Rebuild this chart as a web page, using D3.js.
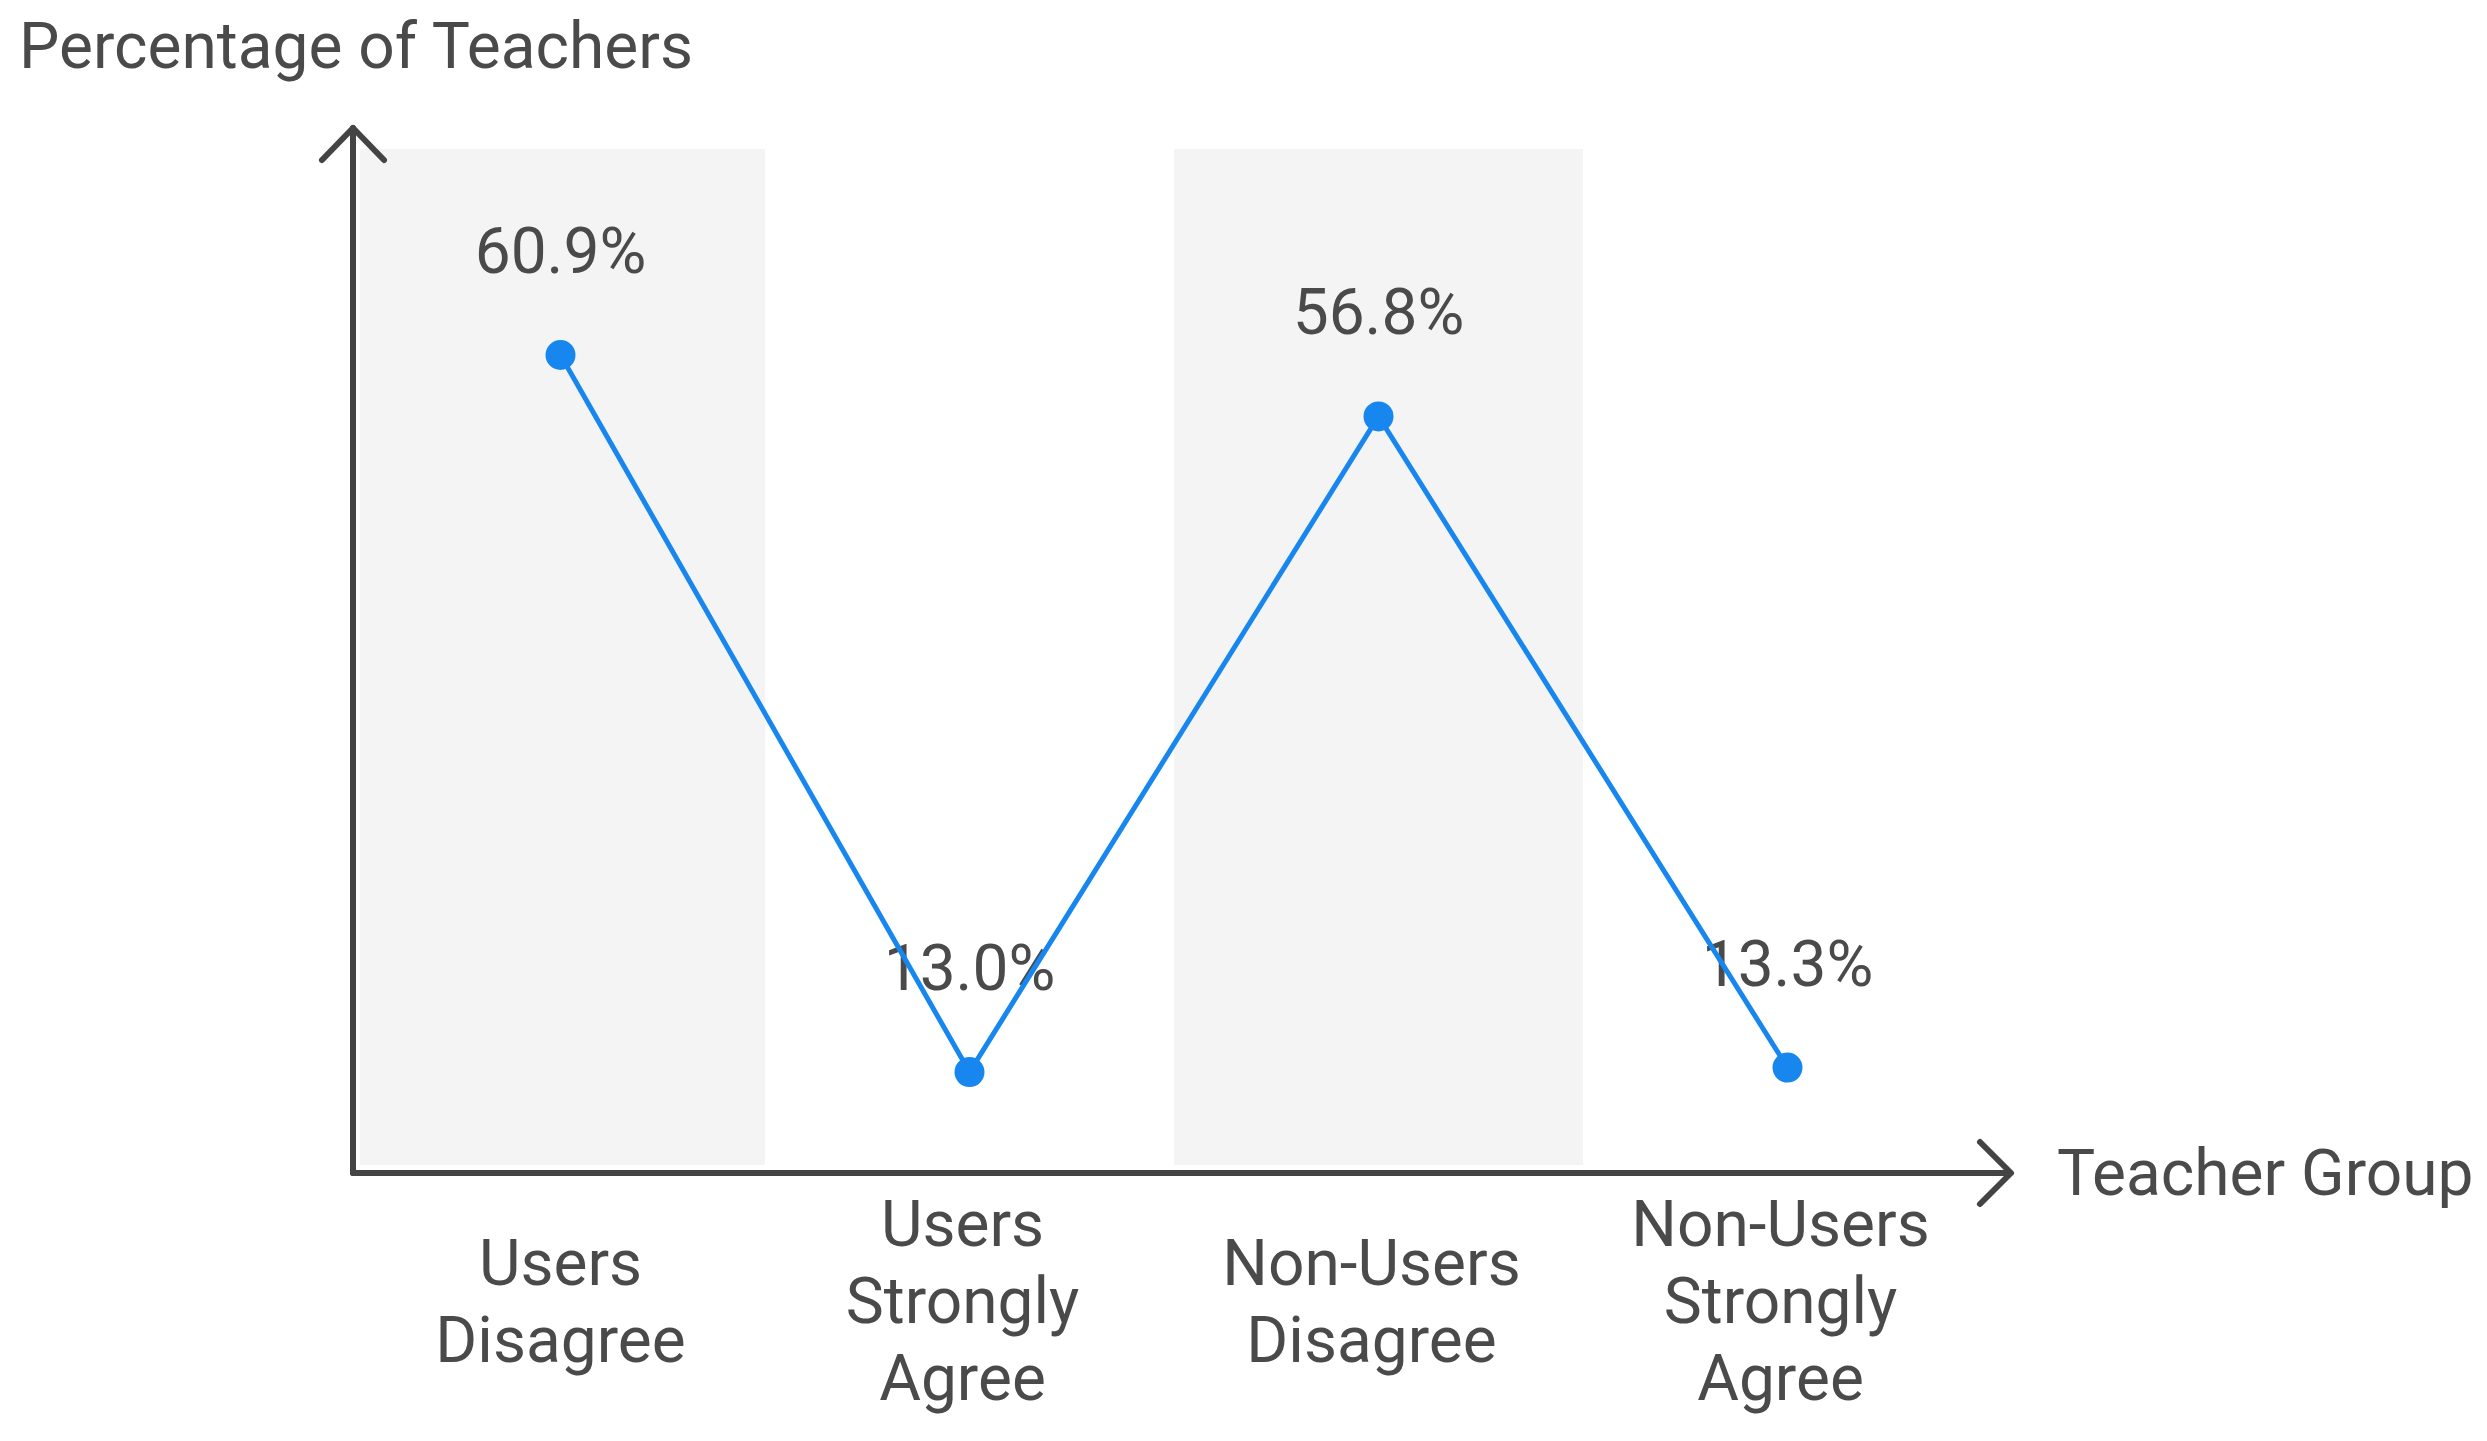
<!DOCTYPE html>
<html>
<head>
<meta charset="utf-8">
<script src="https://cdn.jsdelivr.net/npm/d3@7"></script>
<style>
  html, body { margin: 0; padding: 0; background: #ffffff; }
  svg { display: block; }
  text { font-family: Roboto, "Noto Sans", sans-serif; }
</style>
</head>
<body>
<svg id="chart" width="2487" height="1441"></svg>
<script>
const categories = ["Users Disagree", "Users Strongly Agree", "Non-Users Disagree", "Non-Users Strongly Agree"];
const categoryLines = [["Users", "Disagree"], ["Users", "Strongly", "Agree"], ["Non-Users", "Disagree"], ["Non-Users", "Strongly", "Agree"]];
const values = [60.9, 13.0, 56.8, 13.3];
const valueLabels = ["60.9%", "13.0%", "56.8%", "13.3%"];
const yAxisTitle = "Percentage of Teachers";
const xAxisTitle = "Teacher Group";
const shadedCategories = [0, 2];

const svg = d3.select("#chart");
const W = 2487, H = 1441;
svg.append("rect").attr("width", W).attr("height", H).attr("fill", "#ffffff");

const axisX = 353, axisY = 1173, plotTop = 149;
const x = d3.scaleBand().domain(categories).range([356, 1992]).padding(0);
const y = d3.scaleLinear().domain([6.26, 74.66]).range([axisY, plotTop]);
const cx = i => x(categories[i]) + x.bandwidth() / 2;

const textColor = "#4a4a4a";
const axisColor = "#444444";
const lineColor = "#1787ef";

// shaded bands
svg.append("g").selectAll("rect")
  .data(shadedCategories)
  .join("rect")
  .attr("x", d => x(categories[d]) + (d === 0 ? 4 : 0))
  .attr("y", plotTop)
  .attr("width", d => x.bandwidth() - (d === 0 ? 4 : 0))
  .attr("height", axisY - 8 - plotTop)
  .attr("fill", "#f4f4f4");

// value labels
svg.append("g").selectAll("text")
  .data(values)
  .join("text")
  .attr("x", (d, i) => cx(i))
  .attr("y", d => y(d) - 82)
  .attr("text-anchor", "middle")
  .attr("font-size", 64)
  .attr("fill", textColor)
  .text((d, i) => valueLabels[i]);

// axes
const axes = svg.append("g").attr("fill", "none").attr("stroke", axisColor)
  .attr("stroke-width", 6).attr("stroke-linecap", "round").attr("stroke-linejoin", "round");
axes.append("path").attr("d", `M${axisX},${axisY} L${axisX},128`);
axes.append("path").attr("d", `M${axisX - 31},160 L${axisX},128 L${axisX + 31},160`);
axes.append("path").attr("d", `M${axisX},${axisY} L2010,${axisY}`);
axes.append("path").attr("d", `M1980,${axisY - 31} L2011,${axisY} L1980,${axisY + 31}`);

// line
const line = d3.line()
  .x((d, i) => cx(i))
  .y(d => y(d));
svg.append("path")
  .datum(values)
  .attr("d", line)
  .attr("fill", "none")
  .attr("stroke", lineColor)
  .attr("stroke-width", 5)
  .attr("stroke-linejoin", "round");

svg.append("g").selectAll("circle")
  .data(values)
  .join("circle")
  .attr("cx", (d, i) => cx(i))
  .attr("cy", d => y(d))
  .attr("r", 15)
  .attr("fill", lineColor);

// category labels
const lineH = 77, midBaseline = 1323;
const catG = svg.append("g");
categoryLines.forEach((lines, i) => {
  const lx = cx(i) - (i > 0 ? 7 : 0);
  const first = midBaseline - (lines.length - 1) * lineH / 2;
  const t = catG.append("text")
    .attr("text-anchor", "middle")
    .attr("font-size", 64)
    .attr("fill", textColor);
  lines.forEach((ln, j) => {
    t.append("tspan").attr("x", lx).attr("y", first + j * lineH).text(ln);
  });
});

// axis titles
svg.append("text")
  .attr("x", 19).attr("y", 68)
  .attr("font-size", 64)
  .attr("fill", textColor)
  .text(yAxisTitle);

svg.append("text")
  .attr("x", 2057).attr("y", 1195)
  .attr("font-size", 64)
  .attr("fill", textColor)
  .text(xAxisTitle);
</script>
</body>
</html>
